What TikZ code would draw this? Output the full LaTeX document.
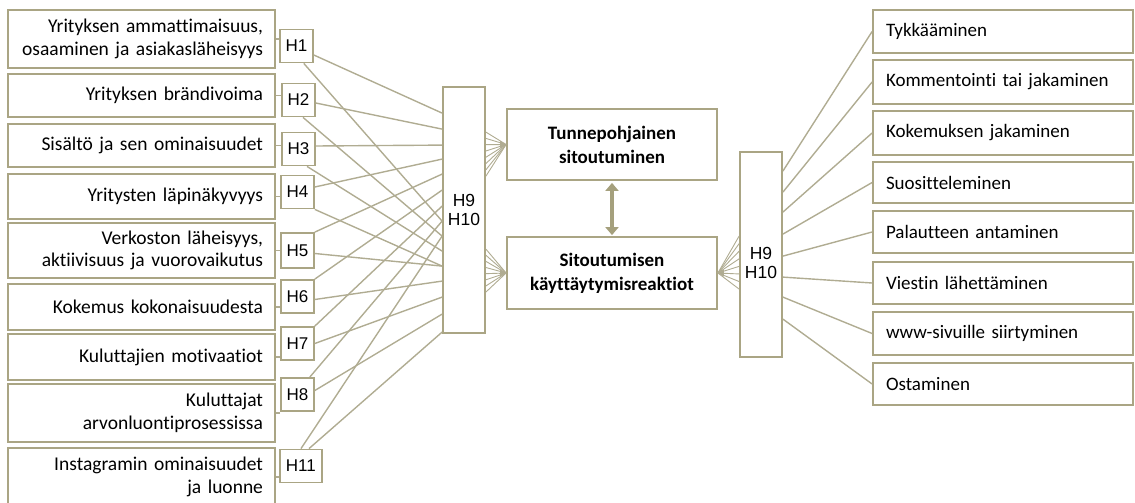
\documentclass[tikz,border=0pt]{standalone}
\usepackage{fontspec}
\setmainfont[Ligatures=NoCommon]{Carlito}
\newfontfamily\arialf{Liberation Sans}
\usetikzlibrary{arrows.meta,calc}
\definecolor{boxc}{RGB}{170,165,132}
\definecolor{linec}{RGB}{176,172,146}
\definecolor{arrc}{RGB}{165,160,125}
\begin{document}
\begin{tikzpicture}[x=1pt,y=-1pt,
  lbox/.style={draw=boxc, line width=1.8pt, inner xsep=12pt, inner ysep=0pt, text width=243pt, align=right, font=\fontsize{19.5}{22.5}\selectfont},
  rbox/.style={draw=boxc, line width=1.8pt, inner xsep=13pt, inner ysep=0pt, text width=234pt, align=left, minimum height=43pt, font=\fontsize{19}{22}\selectfont},
  hbox/.style={draw=boxc, line width=1.8pt, minimum width=33pt, minimum height=33pt, inner sep=0pt, fill=white, font=\arialf\fontsize{17}{19}\selectfont},
  bigbox/.style={draw=boxc, line width=1.8pt, minimum width=42pt, inner sep=0pt, fill=white, align=center, font=\arialf\fontsize{17.5}{19.5}\selectfont},
  cbox/.style={draw=boxc, line width=1.8pt, minimum width=210pt, inner sep=0pt, align=center, font=\bfseries\fontsize{19}{24}\selectfont},
  conn/.style={draw=linec, line width=1.4pt},
  fan/.style={draw=linec, line width=0.9pt},
  tick/.style={draw=linec, line width=1.2pt},
  tipst/.style={draw=linec, line width=0.9pt, -{Triangle[length=6pt,width=7pt]}},
  dbl/.style={draw=arrc, line width=3.5pt, {Triangle[length=8pt,width=13pt]}-{Triangle[length=8pt,width=13pt]}}
]
\useasboundingbox (0,0) rectangle (1135,503);

% left boxes
\node[lbox, minimum height=58pt] (L1) at (141.5,39) {Yrityksen ammattimaisuus,\\osaaminen ja asiakasläheisyys};
\node[lbox, minimum height=43pt] (L2) at (141.5,95.5) {Yrityksen brändivoima};
\node[lbox, minimum height=43pt] (L3) at (141.5,145.5) {Sisältö ja sen ominaisuudet};
\node[lbox, minimum height=45pt] (L4) at (141.5,196.5) {Yritysten läpinäkyvyys};
\node[lbox, minimum height=55pt] (L5) at (141.5,250.5) {Verkoston läheisyys,\\aktiivisuus ja vuorovaikutus};
\node[lbox, minimum height=46pt] (L6) at (141.5,307) {Kokemus kokonaisuudesta};
\node[lbox, minimum height=46pt] (L7) at (141.5,357) {Kuluttajien motivaatiot};
\node[lbox, minimum height=58pt] (L8) at (141.5,413) {Kuluttajat\\arvonluontiprosessissa};
\node[lbox, minimum height=58pt] (L9) at (141.5,477) {Instagramin ominaisuudet\\ja luonne};

% H boxes
\node[hbox, anchor=west] (H1) at (279,46) {H1};
\node[hbox, anchor=west] (H2) at (281,100) {H2};
\node[hbox, anchor=west] (H3) at (281,149) {H3};
\node[hbox, anchor=west] (H4) at (280,192) {H4};
\node[hbox, anchor=west, minimum height=35pt] (H5) at (280,250.5) {H5};
\node[hbox, anchor=west] (H6) at (280,296.5) {H6};
\node[hbox, anchor=west] (H7) at (280,343.5) {H7};
\node[hbox, anchor=west] (H8) at (280,394.5) {H8};
\node[hbox, anchor=west, minimum width=42pt] (H11) at (279,466) {H11};

% ticks between left boxes and H boxes
\draw[tick] (L1.east) -- (L1.east -| H1.west);
\draw[tick] (L2.east) -- (L2.east -| H2.west);
\draw[tick] (L3.east) -- (L3.east -| H3.west);
\draw[tick] (L4.east) -- (L4.east -| H4.west);
\draw[tick] (L5.east) -- (L5.east -| H5.west);
\draw[tick] (L6.east) -- (L6.east -| H6.west);
\draw[tick] (L7.east) -- (L7.east -| H7.west);
\draw[tick] (L8.east) -- (L8.east -| H8.west);
\draw[tick] (L9.east) -- (L9.east -| H11.west);

% big box, centre boxes, right box
\node[bigbox, minimum height=246pt] (B) at (464,210) {H9\\H10};
\node[cbox, minimum height=71pt] (T) at (612,144.5) {Tunnepohjainen\\sitoutuminen};
\node[cbox, minimum height=72pt] (S) at (612,273) {Sitoutumisen\\käyttäytymisreaktiot};
\node[bigbox, minimum height=205pt] (R) at (761,254.5) {};
\node[align=center, inner sep=0pt, font=\arialf\fontsize{17.5}{19.5}\selectfont] (Rl) at (761,263) {H9\\H10};

% endpoints on B west side
\foreach \n/\d in {1/27,2/43,3/59,4/73,5/88,6/104,7/120,8/135,9/150,10/165,11/180,12/195,13/211,14/228,15/246}
  \path (B.north west) ++(0,\d) coordinate (e\n);

% connectors from H boxes to B
\draw[conn] ($(H1.east)+(0,9)$) -- (e1);
\draw[conn] ($(H1.south east)+(-10,0)$) -- (e8);
\draw[conn] ($(H2.east)+(0,3)$) -- (e2);
\draw[conn] ($(H2.south west)+(22,0)$) -- (e9);
\draw[conn] ($(H3.east)+(0,-3)$) -- (e3);
\draw[conn] ($(H3.south west)+(26,0)$) -- (e10);
\draw[conn] ($(H4.east)+(0,-5)$) -- (e4);
\draw[conn] (H4.south east) -- (e11);
\draw[conn] (H5.north east) -- (e5);
\draw[conn] ($(H5.east)+(0,3)$) -- (e11);
\draw[conn] (H6.north east) -- (e6);
\draw[conn] ($(H6.east)+(0,3)$) -- (e12);
\draw[conn] (H7.north east) -- (e7);
\draw[conn] (H7.east) -- (e13);
\draw[conn] ($(H8.north east)+(-5,0)$) -- (e8);
\draw[conn] ($(H8.east)+(0,-4)$) -- (e14);
\draw[conn] ($(H11.north west)+(22,0)$) -- (e9);
\draw[conn] ($(H11.north west)+(30,0)$) -- (e15);

% fans into centre boxes
\foreach \i in {0,...,7} {
  \draw[fan] (B.north east) ++(0,{46+\i*6.29}) -- (T.west);
  \draw[fan] (B.north east) ++(0,{163+\i*6.14}) -- (S.west);
  \draw[fan] (R.north west) ++(0,{85+\i*7.57}) -- (S.east);
}
\draw[tipst] ($(T.west)+(-7,0)$) -- (T.west);
\draw[tipst] ($(S.west)+(-7,0)$) -- (S.west);
\draw[tipst] ($(S.east)+(7,0)$) -- (S.east);

% double arrow
\draw[dbl, shorten <=2pt, shorten >=1pt] (T.south) -- (S.north);

% right boxes
\node[rbox, minimum height=43pt] (K1) at (1003,31.5) {Tykkääminen};
\node[rbox, minimum height=44pt] (K2) at (1003,82) {Kommentointi tai jakaminen};
\node[rbox, minimum height=44pt] (K3) at (1003,133) {Kokemuksen jakaminen};
\node[rbox, minimum height=41pt] (K4) at (1003,182.5) {Suositteleminen};
\node[rbox, minimum height=42pt] (K5) at (1003,232) {Palautteen antaminen};
\node[rbox, minimum height=42pt] (K6) at (1003,283) {Viestin lähettäminen};
\node[rbox, minimum height=43pt] (K7) at (1003,333.5) {www-sivuille siirtyminen};
\node[rbox, minimum height=42pt] (K8) at (1003,384) {Ostaminen};

% connectors from R to right boxes
\foreach \k/\d in {1/20,2/41,3/61,4/83,5/105,6/126,7/146,8/168}
  \draw[conn] (R.north east) ++(0,\d) -- (K\k.west);
\end{tikzpicture}
\end{document}
